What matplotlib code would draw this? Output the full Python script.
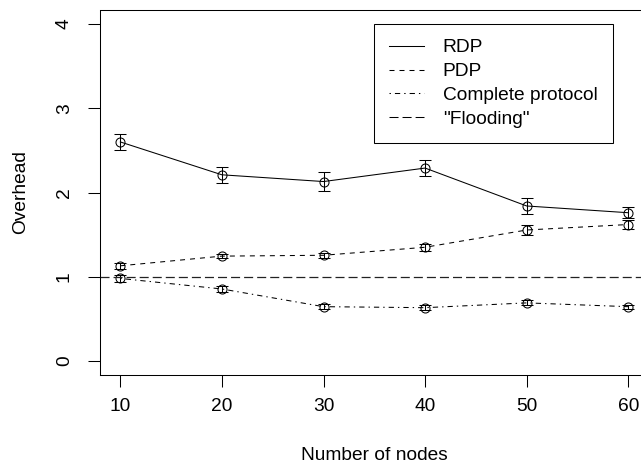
import matplotlib
matplotlib.use("Agg")
import matplotlib.pyplot as plt
from matplotlib.lines import Line2D

plt.rcParams['font.family'] = ['Liberation Sans', 'DejaVu Sans']
plt.rcParams['lines.scale_dashes'] = False

# Data: mean overhead and error half-widths per network size
nodes = [10, 20, 30, 40, 50, 60]
rdp = [2.60, 2.21, 2.13, 2.29, 1.84, 1.76]
rdp_err = [0.10, 0.095, 0.11, 0.10, 0.095, 0.065]
pdp = [1.13, 1.245, 1.255, 1.35, 1.555, 1.62]
pdp_err = [0.035, 0.025, 0.03, 0.04, 0.055, 0.055]
complete = [0.98, 0.855, 0.645, 0.633, 0.69, 0.645]
complete_err = [0.045, 0.04, 0.03, 0.03, 0.03, 0.025]
flooding = 1.0

FS = 13.75
LW = 0.75

fig = plt.figure(figsize=(6.41, 4.68), dpi=100)
W, H = 641, 468
ax = fig.add_axes([100 / W, (H - 374.5) / H, 548.6 / W, 364 / H])

dash_pdp = (0, (3.6, 3.6))
dash_complete = (0, (1.0, 2.9, 3.8, 2.9))
dash_flood = (0, (6.5, 2.9))

series = [
    (rdp, rdp_err, '-', 'RDP'),
    (pdp, pdp_err, dash_pdp, 'PDP'),
    (complete, complete_err, dash_complete, 'Complete protocol'),
]

handles = []
for vals, errs, ls, name in series:
    ax.plot(nodes, vals, color='black', lw=LW, linestyle=ls)
    ax.errorbar(nodes, vals, yerr=errs, fmt='none', ecolor='black',
                elinewidth=LW, capsize=4.3, capthick=LW)
    ax.plot(nodes, vals, linestyle='none', marker='o', ms=6.5,
            mfc='none', mec='black', mew=LW)
    handles.append(Line2D([], [], color='black', lw=LW, linestyle=ls, label=name))

ax.axhline(flooding, color='#222222', lw=0.9, linestyle=dash_flood)
handles.append(Line2D([], [], color='black', lw=LW, linestyle=dash_flood,
                      label='"Flooding"'))

ax.set_xlim(8, 62)
ax.set_ylim(-0.16, 4.16)
ax.set_xticks(nodes)
ax.set_yticks([0, 1, 2, 3, 4])

for s in ax.spines.values():
    s.set_linewidth(LW)
ax.tick_params(axis='both', direction='out', length=8.6, width=LW,
               labelsize=FS, color='black')
ax.tick_params(axis='x', pad=8.5)
ax.tick_params(axis='y', pad=11)
for lab in ax.get_yticklabels():
    lab.set_rotation(90)
    lab.set_va('center')

ax.set_xlabel('Number of nodes', fontsize=FS, labelpad=22.5)
ax.set_ylabel('Overhead', fontsize=FS, labelpad=19)

leg = ax.legend(handles=handles, loc='upper left', bbox_to_anchor=(0.5, 0.963),
                borderaxespad=0, fontsize=FS, handlelength=1.8,
                handletextpad=1.0, labelspacing=0.34, borderpad=0.79,
                frameon=True, fancybox=False, framealpha=1, edgecolor='black')
leg.get_frame().set_linewidth(LW)

fig.savefig('out.png', dpi=100)
